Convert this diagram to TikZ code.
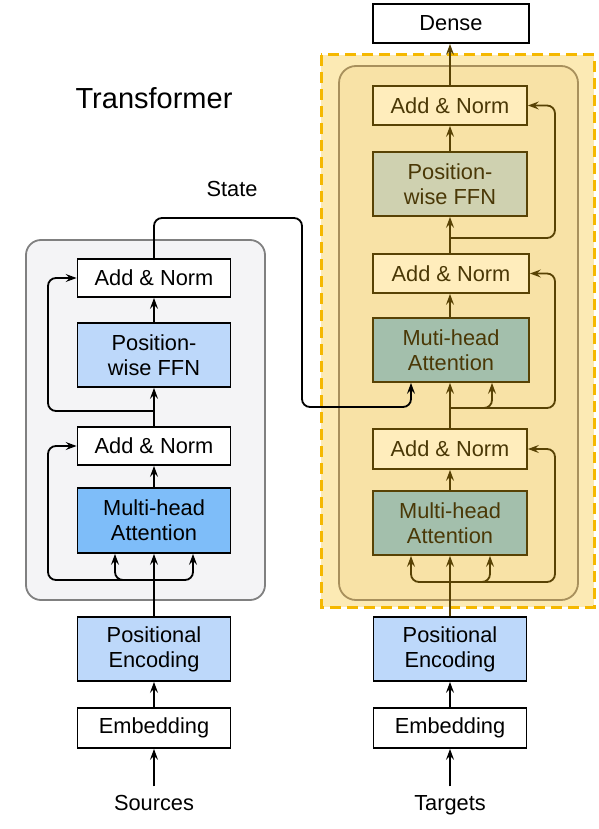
\documentclass[tikz,border=0pt]{standalone}
\usepackage{fontspec}
\setmainfont{Liberation Sans}
\usetikzlibrary{arrows.meta}
\definecolor{encbg}{HTML}{F4F4F6}
\definecolor{encbd}{HTML}{808080}
\definecolor{lblue}{HTML}{BDD8FA}
\definecolor{mblue}{HTML}{7EBDF9}
\definecolor{dashbg}{HTML}{FCEAB4}
\definecolor{dashbd}{HTML}{F5B800}
\definecolor{innerbg}{HTML}{F8E2A6}
\definecolor{innerbd}{HTML}{A8905C}
\definecolor{decbox}{HTML}{FFEDBC}
\definecolor{decffn}{HTML}{CFD1B0}
\definecolor{decmha}{HTML}{A3BFAC}
\definecolor{brown}{HTML}{584204}
\definecolor{browntxt}{HTML}{4A3806}
\begin{document}
\begin{tikzpicture}[x=1pt,y=-1pt,
  txt/.style={font=\fontsize{21.8}{25}\selectfont, align=center},
  ebox/.style={txt, draw=black, line width=1.8pt, minimum width=153pt, inner sep=0pt},
  dbox/.style={txt, draw=brown, text=browntxt, line width=1.8pt, minimum width=154pt, inner sep=0pt},
  arr/.style={line width=1.8pt, -{Stealth[length=11pt,width=8pt,inset=4pt]}},
  earr/.style={arr, draw=black},
  darr/.style={arr, draw=brown},
  rc/.style={rounded corners=8pt}
]
\useasboundingbox (0,0) rectangle (598,829);
% containers
\draw[fill=encbg, draw=encbd, line width=1.8pt, rounded corners=15pt] (26,240) rectangle (265,600);
\draw[fill=dashbg, draw=dashbd, line width=3pt, dash pattern=on 11pt off 6pt] (321,55) rectangle (594,607);
\draw[fill=innerbg, draw=innerbd, line width=1.8pt, rounded corners=17pt] (339,66) rectangle (578,600);

% title labels
\node[font=\fontsize{29}{32}\selectfont] (title) at (154,98) {Transformer};
\node[txt] (state) at (232,189) {State};

% encoder
\node[ebox, fill=white, minimum height=38pt] (eAN2) at (154,278) {Add \& Norm};
\node[ebox, fill=lblue, minimum height=64pt] (eFFN) at (154,355) {Position-\\wise FFN};
\node[ebox, fill=white, minimum height=38pt] (eAN1) at (154,446) {Add \& Norm};
\node[ebox, fill=mblue, minimum height=65pt] (eMHA) at (154,520.5) {Multi-head\\Attention};
\node[ebox, fill=lblue, minimum height=64pt] (ePE) at (154,649) {Positional\\Encoding};
\node[ebox, fill=white, minimum height=40pt] (eEmb) at (154,728) {Embedding};
\node[txt, anchor=base] (src) at (154,810) {Sources};

% decoder
\node[ebox, fill=white, minimum height=39pt, minimum width=156pt] (dense) at (451,23.5) {Dense};
\node[dbox, fill=decbox, minimum height=39pt] (dAN3) at (450,105.5) {Add \& Norm};
\node[dbox, fill=decffn, minimum height=64pt] (dFFN) at (450,184) {Position-\\wise FFN};
\node[dbox, fill=decbox, minimum height=39pt, minimum width=156pt] (dAN2) at (451,273.5) {Add \& Norm};
\node[dbox, fill=decmha, minimum height=64pt, minimum width=156pt] (dMHA2) at (451,350) {Muti-head\\Attention};
\node[dbox, fill=decbox, minimum height=40pt] (dAN1) at (450,449) {Add \& Norm};
\node[dbox, fill=decmha, minimum height=64pt] (dMHA1) at (450,523) {Multi-head\\Attention};
\node[ebox, fill=lblue, minimum height=64pt] (dPE) at (450,649) {Positional\\Encoding};
\node[ebox, fill=white, minimum height=40pt] (dEmb) at (450,728) {Embedding};
\node[txt, anchor=base] (tgt) at (450,810) {Targets};

% encoder connectors
\draw[earr, shorten <=5pt] (src) -- (eEmb);
\draw[earr] (eEmb) -- (ePE);
\draw[earr] (ePE) -- (eMHA);
\coordinate (eBr1) at (154,580);
\draw[earr, rc] (eBr1) -- (48,580) |- (eAN1.west);
\draw[earr, rc] (eBr1) -| ([xshift=-39pt]eMHA.south);
\draw[earr, rc] (eBr1) -| ([xshift=39pt]eMHA.south);
\draw[earr] (eMHA) -- (eAN1);
\draw[earr] (eAN1) -- (eFFN);
\coordinate (eBr2) at (154,411);
\draw[earr, rc] (eBr2) -- (48,411) |- (eAN2.west);
\draw[earr] (eFFN) -- (eAN2);

% decoder connectors
\draw[earr, shorten <=5pt] (tgt) -- (dEmb);
\draw[earr] (dEmb) -- (dPE);
\draw[darr] (dPE) -- (dMHA1);
\coordinate (dBr1) at (450,582);
\draw[darr, rc] (dBr1) -- (555,582) |- (dAN1.east);
\draw[darr, rc] (dBr1) -| ([xshift=-39pt]dMHA1.south);
\draw[darr, rc] (dBr1) -| ([xshift=40pt]dMHA1.south);
\draw[darr] (dMHA1) -- (dAN1);
\draw[darr] (dAN1) -- (dMHA2.south -| dAN1.north);
\coordinate (dBr2) at (450,408);
\draw[darr, rc] (dBr2) -- (555,408) |- (dAN2.east);
\draw[darr, rc] (dBr2) -| ([xshift=41pt]dMHA2.south);
\draw[darr] (dMHA2.north -| dAN1.north) -- (dAN2.south -| dAN1.north);
\draw[darr] (dAN2.north -| dAN1.north) -- (dFFN);
\coordinate (dBr3) at (450,238);
\draw[darr, rc] (dBr3) -- (555,238) |- (dAN3.east);
\draw[darr] (dFFN) -- (dAN3);
\draw[darr] (dAN3) -- (dense.south -| dAN3.north);

% state connector
\draw[earr, rc] (eAN2.north) -- (154,218) -- (302,218) -- (302,407) -| ([xshift=-40pt]dMHA2.south);
\end{tikzpicture}
\end{document}
